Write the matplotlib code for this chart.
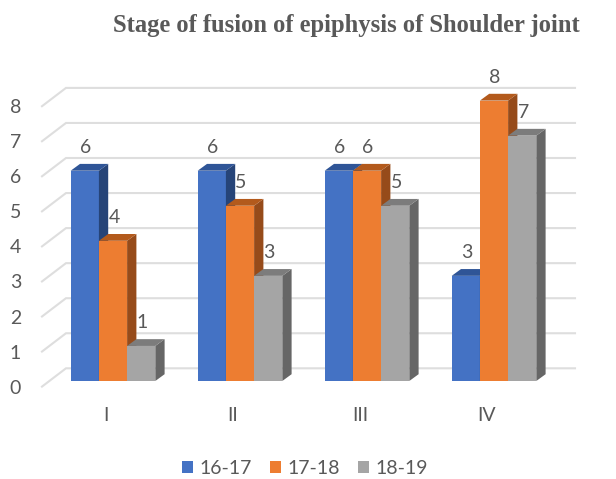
import matplotlib
matplotlib.use('Agg')
import matplotlib.pyplot as plt
from matplotlib.patches import Patch, Polygon

categories = ['I', 'II', 'III', 'IV']
series_names = ['16-17', '17-18', '18-19']
vals_16_17 = [6, 6, 6, 3]
vals_17_18 = [4, 5, 6, 8]
vals_18_19 = [1, 3, 5, 7]

W, H = 616, 479
LEFT, RIGHT, Y0, Y8 = 42, 575, 386.6, 106.2
TEXT = '#595959'
GRID = '#DEDEDE'

plt.rcParams['font.family'] = ['Lato', 'DejaVu Sans']

fig = plt.figure(figsize=(W / 100, H / 100), dpi=100)
ax = fig.add_axes([LEFT / W, 1 - Y0 / H, (RIGHT - LEFT) / W, (Y0 - Y8) / H])

px_x = 127.0
px_y = (Y0 - Y8) / 8
ax.set_xlim((LEFT - 113) / px_x, (RIGHT - 113) / px_x)
ax.set_ylim(0, 8)

# walls: gridline runs from the front edge to the back wall, then right
wall_dx = 24 / px_x
wall_dy = 18.3 / px_y
x_start = ax.get_xlim()[0]
x_end = ax.get_xlim()[1]
for v in range(0, 9):
    ax.plot([x_start, x_start + wall_dx, x_end], [v, v + wall_dy, v + wall_dy],
            color=GRID, lw=1.5, zorder=1, clip_on=False, solid_joinstyle='miter')

# fake 3d bars
bar_w = 28.2 / px_x
base = 5.6 / px_y
depth_x = 9.3 / px_x
depth_y = 6.8 / px_y
styles = [('#4472C4', '#264478', '#2F5597'),
          ('#ED7D31', '#964B1A', '#B35A1C'),
          ('#A5A5A5', '#666666', '#7C7C7C')]
all_vals = [vals_16_17, vals_17_18, vals_18_19]

for s, vals in enumerate(all_vals):
    front, side, top = styles[s]
    z = 3 + s
    for i, v in enumerate(vals):
        x = i + (s - 1) * bar_w
        x0, x1 = x - bar_w / 2, x + bar_w / 2
        y1 = base + v
        ax.bar(x, v, width=bar_w, bottom=base, color=front, zorder=z, clip_on=False)
        ax.add_patch(Polygon([(x1, base), (x1 + depth_x, base + depth_y),
                              (x1 + depth_x, y1 + depth_y), (x1, y1)],
                             facecolor=side, edgecolor='none', zorder=z, clip_on=False))
        ax.add_patch(Polygon([(x0, y1), (x0 + depth_x, y1 + depth_y),
                              (x1 + depth_x, y1 + depth_y), (x1, y1)],
                             facecolor=top, edgecolor='none', zorder=z, clip_on=False))
        ax.text(x + 1 / px_x, y1 + 23 / px_y, str(v), ha='center', va='center',
                color=TEXT, fontsize=14, zorder=10)

# category labels sit a little left of the bar groups
ax.set_xticks([i - 7 / px_x for i in range(len(categories))])
ax.set_xticklabels(categories)
ax.set_yticks(range(0, 9))
ax.tick_params(axis='both', length=0, labelsize=14, labelcolor=TEXT)
ax.tick_params(axis='x', pad=15)
ax.tick_params(axis='y', pad=15)
for spine in ax.spines.values():
    spine.set_visible(False)
ax.patch.set_visible(False)

fig.text(346 / W, 1 - 25.5 / H, 'Stage of fusion of epiphysis of Shoulder joint',
         ha='center', va='center', family='Liberation Serif', weight='bold',
         fontsize=17.7, color=TEXT)

handles = [Patch(facecolor=st[0], label=n) for st, n in zip(styles, series_names)]
fig.legend(handles=handles, loc='center', bbox_to_anchor=(305 / W, 1 - 468 / H),
           ncol=3, frameon=False, fontsize=14, labelcolor=TEXT,
           handlelength=0.57, handleheight=0.57, handletextpad=0.35, columnspacing=0.9)

fig.savefig('out.png', dpi=100)
